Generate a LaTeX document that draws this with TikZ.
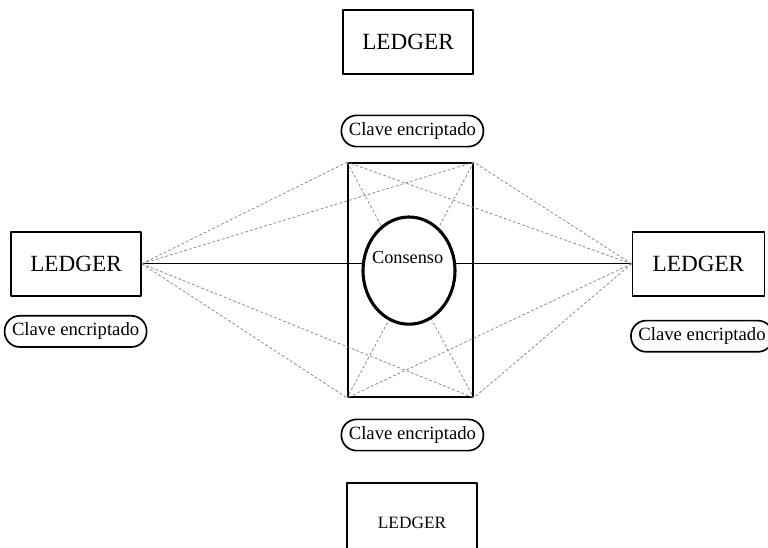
\documentclass[tikz,border=0pt]{standalone}
\usepackage{fontspec}
\setmainfont{Liberation Serif}
\usetikzlibrary{shapes.geometric}
\begin{document}
\begin{tikzpicture}[line join=round,
	ledger/.style={draw,line width=1.2pt,minimum width=3.25cm,minimum height=1.6cm,font=\fontsize{16.5}{18}\selectfont},
	clave/.style={draw,line width=1.2pt,rounded corners=0.38cm,minimum width=3.55cm,minimum height=0.78cm,font=\fontsize{13.3}{15}\selectfont},
	dline/.style={gray,line width=0.5pt,dash pattern=on 2pt off 1.5pt}]
	\clip (0,0) rectangle (19.2,13.675);
	
	\node[ledger] (ledT) at (10.2,12.625) {LEDGER};
	\node[clave] (claveT) at (10.31,10.4) {Clave encriptado};
	
	\node[draw,line width=1.2pt,minimum width=3.125cm,minimum height=5.85cm] (hub) at (10.26,6.675) {};
	
	\node[ledger] (ledL) at (1.9,7.08) {LEDGER};
	\node[clave] (claveL) at (1.89,5.39) {Clave encriptado};
	
	\node[ledger,minimum width=3.3cm] (ledR) at (17.46,7.08) {LEDGER};
	\node[clave] (claveR) at (17.55,5.27) {Clave encriptado};
	
	\node[clave] (claveB) at (10.31,2.8) {Clave encriptado};
	\node[ledger,minimum height=2cm,font=\fontsize{12.3}{14}\selectfont] (ledB) at (10.3,0.6) {LEDGER};
	
	% lineas hacia el consenso
	\draw[line width=0.6pt] (ledL.east) -- (ledR.west);
	\foreach \c in {north west,north east,south west,south east}
		\draw[dline] (ledL.east) -- (hub.\c) (ledR.west) -- (hub.\c);
	\draw[dline] (hub.north west) -- (hub.south east) (hub.north east) -- (hub.south west);
	
	\node[ellipse,draw,fill=white,line width=2.2pt,minimum width=2.3cm,minimum height=2.68cm] (cons) at (10.225,6.91) {};
	\node[font=\fontsize{13}{15}\selectfont] (consT) at (10.19,7.225) {Consenso};
\end{tikzpicture}
\end{document}
